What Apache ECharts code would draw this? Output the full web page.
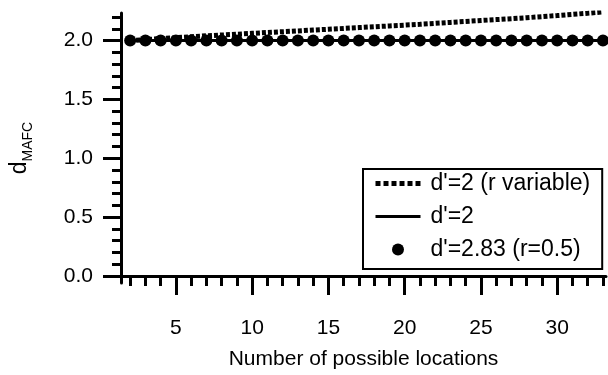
<!DOCTYPE html>
<html>
<head>
<meta charset="utf-8">
<script src="https://cdn.jsdelivr.net/npm/echarts@6/dist/echarts.min.js"></script>
<style>
  html, body { margin: 0; padding: 0; background: #fff; }
  #chart { width: 608px; height: 375px; }
</style>
</head>
<body>
<div id="chart"></div>
<script>
// number of possible locations
var locations = [2, 3, 4, 5, 6, 7, 8, 9, 10, 11, 12, 13, 14, 15, 16, 17,
                 18, 19, 20, 21, 22, 23, 24, 25, 26, 27, 28, 29, 30, 31, 32, 33];
// d'=2 (r variable)
var dVariable = [2.000, 2.008, 2.016, 2.024, 2.032, 2.040, 2.047, 2.054,
                 2.061, 2.068, 2.075, 2.082, 2.089, 2.096, 2.103, 2.110,
                 2.117, 2.124, 2.131, 2.138, 2.146, 2.154, 2.162, 2.170,
                 2.178, 2.186, 2.194, 2.203, 2.212, 2.222, 2.232, 2.243];
// d'=2
var dConst = [2, 2, 2, 2, 2, 2, 2, 2, 2, 2, 2, 2, 2, 2, 2, 2,
              2, 2, 2, 2, 2, 2, 2, 2, 2, 2, 2, 2, 2, 2, 2, 2];
// d'=2.83 (r=0.5)
var dCorr = [2, 2, 2, 2, 2, 2, 2, 2, 2, 2, 2, 2, 2, 2, 2, 2,
             2, 2, 2, 2, 2, 2, 2, 2, 2, 2, 2, 2, 2, 2, 2, 2];

var seriesNames = ["d'=2 (r variable)", "d'=2", "d'=2.83 (r=0.5)"];

var xMajor = [5, 10, 15, 20, 25, 30];
var xMinor = [2, 3, 4, 6, 7, 8, 9, 11, 12, 13, 14, 16, 17, 18, 19,
              21, 22, 23, 24, 26, 27, 28, 29, 31, 32, 33];
var yMajor = [0, 0.5, 1.0, 1.5, 2.0];
var yMinor = [0.1, 0.2, 0.3, 0.4, 0.6, 0.7, 0.8, 0.9,
              1.1, 1.2, 1.3, 1.4, 1.6, 1.7, 1.8, 1.9, 2.1, 2.2];

function pairs(ys) {
    return locations.map(function (x, i) { return [x, ys[i]]; });
}

var font = 'Liberation Sans, Arial, Helvetica, sans-serif';
var xMin = 1.4, xMax = 33.2, yMin = -0.06, yMax = 2.234;

var myChart = echarts.init(document.getElementById('chart'));

var option = {
    animation: false,
    backgroundColor: '#fff',
    textStyle: { fontFamily: font, color: '#000' },
    grid: { left: 121, right: 2, top: 13, bottom: 89 },
    legend: {
        orient: 'vertical',
        left: 363,
        top: 169,
        padding: [3, 12, 8, 10],
        itemGap: 10,
        itemWidth: 45,
        itemHeight: 12,
        borderColor: '#000',
        borderWidth: 2,
        backgroundColor: '#fff',
        textStyle: { fontSize: 23, color: '#000', fontFamily: font, padding: [0, 0, 0, 5] },
        data: [
            // line items: hide the marker ECharts puts in the middle
            { name: seriesNames[0], itemStyle: { opacity: 0 }, lineStyle: { width: 5, type: [5, 3] } },
            { name: seriesNames[1], itemStyle: { opacity: 0 }, lineStyle: { width: 3 } },
            { name: seriesNames[2], icon: 'circle' }
        ]
    },
    xAxis: [{
        type: 'value',
        min: xMin,
        max: xMax,
        name: 'Number of possible locations',
        nameLocation: 'middle',
        nameGap: 66,
        nameTextStyle: { fontSize: 21, color: '#000', fontFamily: font },
        axisLine: { lineStyle: { color: '#000', width: 3 } },
        axisTick: { customValues: xMajor, length: 19, lineStyle: { color: '#000', width: 3 } },
        axisLabel: {
            customValues: xMajor, fontSize: 21, color: '#000', margin: 35, fontFamily: font
        },
        splitLine: { show: false }
    }, {
        type: 'value',
        min: xMin,
        max: xMax,
        position: 'bottom',
        axisLine: { show: false },
        axisTick: { customValues: xMinor, length: 10, lineStyle: { color: '#000', width: 3 } },
        axisLabel: { show: false },
        splitLine: { show: false }
    }],
    yAxis: [{
        type: 'value',
        min: yMin,
        max: yMax,
        name: '{d|d}{s|MAFC}',
        nameLocation: 'middle',
        nameGap: 86,
        nameTextStyle: {
            rich: {
                d: { fontSize: 23, color: '#000', fontFamily: font, lineHeight: 30, verticalAlign: 'middle' },
                s: { fontSize: 14, color: '#000', fontFamily: font, lineHeight: 30, verticalAlign: 'bottom' }
            }
        },
        axisLine: { lineStyle: { color: '#000', width: 3 } },
        axisTick: { customValues: yMajor, length: 18, lineStyle: { color: '#000', width: 3 } },
        axisLabel: {
            customValues: yMajor, fontSize: 21, color: '#000', margin: 28, fontFamily: font,
            formatter: function (v) { return v.toFixed(1); }
        },
        splitLine: { show: false }
    }, {
        type: 'value',
        min: yMin,
        max: yMax,
        position: 'left',
        axisLine: { show: false },
        axisTick: { customValues: yMinor, length: 9, lineStyle: { color: '#000', width: 3 } },
        axisLabel: { show: false },
        splitLine: { show: false }
    }],
    series: [{
        name: seriesNames[0],
        type: 'line',
        symbol: 'none',
        data: pairs(dVariable),
        lineStyle: { color: '#000', width: 5, type: [4, 2] },
        itemStyle: { color: '#000' },
        z: 3
    }, {
        name: seriesNames[1],
        type: 'line',
        symbol: 'none',
        data: pairs(dConst),
        lineStyle: { color: '#000', width: 3 },
        itemStyle: { color: '#000' },
        z: 2
    }, {
        name: seriesNames[2],
        type: 'scatter',
        symbol: 'circle',
        symbolSize: 12,
        data: pairs(dCorr),
        itemStyle: { color: '#000', opacity: 1 },
        z: 4
    }]
};

myChart.setOption(option);
</script>
</body>
</html>
